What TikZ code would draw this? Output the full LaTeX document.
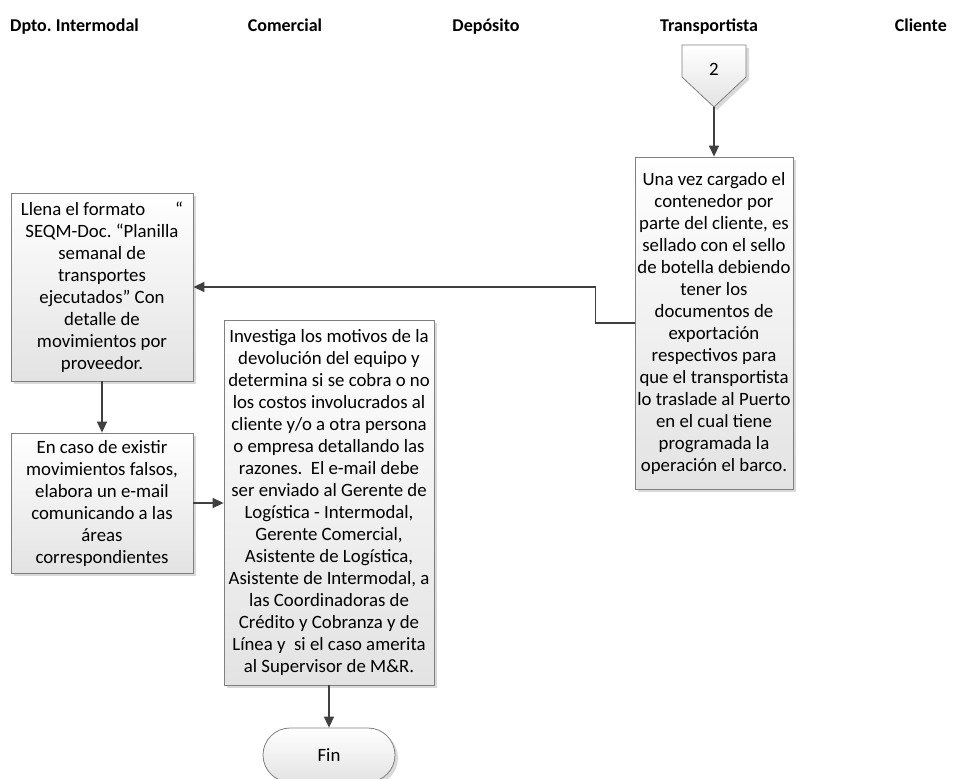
\documentclass[tikz,border=0pt]{standalone}
\usepackage{fontspec}
\setmainfont{Carlito}
\frenchspacing
\usetikzlibrary{arrows.meta,shadows}
\definecolor{edgegray}{HTML}{808080}
\definecolor{linkgray}{HTML}{404040}
\tikzset{
  lanehead/.style={font=\fontsize{18}{22}\selectfont\bfseries, inner sep=0pt, anchor=base},
  procbox/.style={draw=edgegray, line width=0.8pt, top color=white, bottom color=black!11,
    drop shadow={shadow xshift=3pt, shadow yshift=-3pt, fill=black!25, opacity=0.6},
    align=center, inner sep=0pt, font=\fontsize{18.8}{22}\selectfont},
  termbox/.style={procbox, rounded corners=27pt},
  link/.style={draw=linkgray, line width=1.4pt, -{Triangle[length=11pt,width=10pt]}},
}
\begin{document}
\begin{tikzpicture}[x=1pt,y=-1pt]
  \useasboundingbox (0,0) rectangle (957,778);

  % lane headings
  \node[lanehead, anchor=base west] (hdpto) at (10,32) {Dpto. Intermodal};
  \node[lanehead] (hcom) at (285,32) {Comercial};
  \node[lanehead] (hdep) at (486,32) {Depósito};
  \node[lanehead] (htra) at (709,32) {Transportista};
  \node[lanehead, anchor=base east] (hcli) at (947,32) {Cliente};

  % off-page reference 2
  \path[draw=edgegray, line width=0.8pt, top color=white, bottom color=black!11,
    drop shadow={shadow xshift=3pt, shadow yshift=-3pt, fill=black!25, opacity=0.6}]
    (682,45) -- (746,45) -- (746,77) -- (714,107) -- (682,77) -- cycle;
  \node[font=\fontsize{18.8}{22}\selectfont] (off2) at (714,69) {2};
  \coordinate (off2tip) at (714,107);

  % process boxes
  \node[procbox, minimum width=158pt, minimum height=332pt] (rbox) at (714,323)
    {Una vez cargado el\\contenedor por\\parte del cliente, es\\sellado con el sello\\de botella debiendo\\tener los\\documentos de\\exportación\\respectivos para\\que el transportista\\lo traslade al Puerto\\en el cual tiene\\programada la\\operación el barco.};

  \node[procbox, minimum width=182pt, minimum height=188pt] (fbox) at (102,287)
    {Llena el formato\hspace{1.6em}“\\SEQM-Doc. “Planilla\\semanal de\\transportes\\ejecutados” Con\\detalle de\\movimientos por\\proveedor.};

  \node[procbox, minimum width=182pt, minimum height=140pt] (ebox) at (102,503)
    {En caso de existir\\movimientos falsos,\\elabora un e-mail\\comunicando a las\\áreas\\correspondientes};

  \node[procbox, minimum width=210pt, minimum height=365pt] (ibox) at (329,502.5)
    {Investiga los motivos de la\\devolución del equipo y\\determina si se cobra o no\\los costos involucrados al\\cliente y/o a otra persona\\o empresa detallando las\\razones.\ \ El e-mail debe\\ser enviado al Gerente de\\Logística - Intermodal,\\Gerente Comercial,\\Asistente de Logística,\\Asistente de Intermodal, a\\las Coordinadoras de\\Crédito y Cobranza y de\\Línea y\ \ si el caso amerita\\al Supervisor de M\&R.};

  \node[termbox, minimum width=132pt, minimum height=54pt] (fin) at (329,755) {Fin};

  % connectors
  \draw[link] (off2tip) -- (rbox.north);
  \draw[link] (rbox.west) -- ++(-39,0) |- (fbox.east);
  \draw[link] (fbox.south) -- (ebox.north);
  \draw[link] (ebox.east) -- (ebox.east -| ibox.west);
  \draw[link] (ibox.south) -- (fin.north);
\end{tikzpicture}
\end{document}
